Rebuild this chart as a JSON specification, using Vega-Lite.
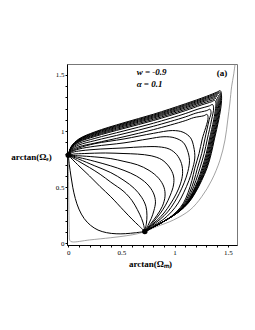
{
  "$schema": "https://vega.github.io/schema/vega-lite/v6.json",
  "autosize": {"type": "none"},
  "width": 170,
  "height": 181,
  "padding": {"left": 67, "top": 64, "right": 18, "bottom": 85},
  "background": "white",
  "config": {"view": {"stroke": "#777", "strokeWidth": 1}},
  "datasets": {
    "curves": [
      {"c":"L1","x":0,"y":0.785},{"c":"L1","x":0.01,"y":0.7},{"c":"L1","x":0.025,"y":0.6},{"c":"L1","x":0.042,"y":0.5},{"c":"L1","x":0.066,"y":0.4},{"c":"L1","x":0.1,"y":0.305},{"c":"L1","x":0.15,"y":0.22},{"c":"L1","x":0.21,"y":0.16},{"c":"L1","x":0.28,"y":0.118},{"c":"L1","x":0.36,"y":0.095},{"c":"L1","x":0.45,"y":0.085},{"c":"L1","x":0.54,"y":0.086},{"c":"L1","x":0.63,"y":0.094},{"c":"L1","x":0.72,"y":0.105},
      {"c":"L2","x":0,"y":0.785},{"c":"L2","x":0.1,"y":0.69},{"c":"L2","x":0.2,"y":0.6},{"c":"L2","x":0.3,"y":0.505},{"c":"L2","x":0.4,"y":0.415},{"c":"L2","x":0.524,"y":0.29},{"c":"L2","x":0.6,"y":0.215},{"c":"L2","x":0.66,"y":0.16},{"c":"L2","x":0.72,"y":0.105},
      {"c":"L3","x":0,"y":0.785},{"c":"L3","x":0.1,"y":0.73},{"c":"L3","x":0.2,"y":0.675},{"c":"L3","x":0.3,"y":0.615},{"c":"L3","x":0.4,"y":0.545},{"c":"L3","x":0.524,"y":0.46},{"c":"L3","x":0.6,"y":0.38},{"c":"L3","x":0.65,"y":0.3},{"c":"L3","x":0.69,"y":0.22},{"c":"L3","x":0.71,"y":0.16},{"c":"L3","x":0.72,"y":0.105},
      {"c":"c14","x":0,"y":0.785},{"c":"c14","x":0.1,"y":0.75},{"c":"c14","x":0.25,"y":0.69},{"c":"c14","x":0.4,"y":0.63},{"c":"c14","x":0.524,"y":0.56},{"c":"c14","x":0.62,"y":0.49},{"c":"c14","x":0.69,"y":0.41},{"c":"c14","x":0.73,"y":0.33},{"c":"c14","x":0.74,"y":0.25},{"c":"c14","x":0.735,"y":0.18},{"c":"c14","x":0.72,"y":0.105},
      {"c":"c13","x":0,"y":0.785},{"c":"c13","x":0.1,"y":0.765},{"c":"c13","x":0.25,"y":0.73},{"c":"c13","x":0.4,"y":0.69},{"c":"c13","x":0.524,"y":0.65},{"c":"c13","x":0.64,"y":0.6},{"c":"c13","x":0.74,"y":0.53},{"c":"c13","x":0.8,"y":0.45},{"c":"c13","x":0.82,"y":0.37},{"c":"c13","x":0.805,"y":0.29},{"c":"c13","x":0.78,"y":0.22},{"c":"c13","x":0.75,"y":0.16},{"c":"c13","x":0.72,"y":0.105},
      {"c":"c12","x":0,"y":0.785},{"c":"c12","x":0.1,"y":0.78},{"c":"c12","x":0.25,"y":0.77},{"c":"c12","x":0.4,"y":0.755},{"c":"c12","x":0.524,"y":0.73},{"c":"c12","x":0.65,"y":0.7},{"c":"c12","x":0.76,"y":0.65},{"c":"c12","x":0.85,"y":0.58},{"c":"c12","x":0.9,"y":0.5},{"c":"c12","x":0.91,"y":0.42},{"c":"c12","x":0.885,"y":0.33},{"c":"c12","x":0.835,"y":0.25},{"c":"c12","x":0.78,"y":0.18},{"c":"c12","x":0.72,"y":0.105},
      {"c":"c11","x":0,"y":0.785},{"c":"c11","x":0.05,"y":0.795},{"c":"c11","x":0.15,"y":0.8},{"c":"c11","x":0.35,"y":0.805},{"c":"c11","x":0.524,"y":0.8},{"c":"c11","x":0.65,"y":0.795},{"c":"c11","x":0.78,"y":0.78},{"c":"c11","x":0.88,"y":0.745},{"c":"c11","x":0.95,"y":0.68},{"c":"c11","x":0.99,"y":0.6},{"c":"c11","x":0.99,"y":0.52},{"c":"c11","x":0.96,"y":0.43},{"c":"c11","x":0.915,"y":0.34},{"c":"c11","x":0.86,"y":0.26},{"c":"c11","x":0.8,"y":0.19},{"c":"c11","x":0.76,"y":0.145},{"c":"c11","x":0.72,"y":0.105},
      {"c":"c10","x":0,"y":0.785},{"c":"c10","x":0.04,"y":0.81},{"c":"c10","x":0.12,"y":0.825},{"c":"c10","x":0.3,"y":0.84},{"c":"c10","x":0.524,"y":0.85},{"c":"c10","x":0.7,"y":0.86},{"c":"c10","x":0.85,"y":0.86},{"c":"c10","x":0.95,"y":0.84},{"c":"c10","x":1.02,"y":0.79},{"c":"c10","x":1.065,"y":0.71},{"c":"c10","x":1.075,"y":0.62},{"c":"c10","x":1.055,"y":0.53},{"c":"c10","x":1.015,"y":0.44},{"c":"c10","x":0.96,"y":0.35},{"c":"c10","x":0.9,"y":0.27},{"c":"c10","x":0.84,"y":0.21},{"c":"c10","x":0.775,"y":0.155},{"c":"c10","x":0.72,"y":0.105},
      {"c":"c9","x":0,"y":0.785},{"c":"c9","x":0.03,"y":0.815},{"c":"c9","x":0.1,"y":0.84},{"c":"c9","x":0.25,"y":0.865},{"c":"c9","x":0.524,"y":0.895},{"c":"c9","x":0.75,"y":0.93},{"c":"c9","x":0.9,"y":0.95},{"c":"c9","x":1.0,"y":0.94},{"c":"c9","x":1.08,"y":0.9},{"c":"c9","x":1.12,"y":0.83},{"c":"c9","x":1.14,"y":0.74},{"c":"c9","x":1.125,"y":0.64},{"c":"c9","x":1.09,"y":0.54},{"c":"c9","x":1.045,"y":0.445},{"c":"c9","x":0.995,"y":0.36},{"c":"c9","x":0.935,"y":0.28},{"c":"c9","x":0.865,"y":0.215},{"c":"c9","x":0.78,"y":0.152},{"c":"c9","x":0.72,"y":0.105},
      {"c":"c8","x":0,"y":0.785},{"c":"c8","x":0.03,"y":0.82},{"c":"c8","x":0.1,"y":0.85},{"c":"c8","x":0.25,"y":0.888},{"c":"c8","x":0.524,"y":0.93},{"c":"c8","x":0.8,"y":0.98},{"c":"c8","x":0.98,"y":1.005},{"c":"c8","x":1.08,"y":0.99},{"c":"c8","x":1.15,"y":0.94},{"c":"c8","x":1.18,"y":0.86},{"c":"c8","x":1.19,"y":0.76},{"c":"c8","x":1.165,"y":0.65},{"c":"c8","x":1.135,"y":0.56},{"c":"c8","x":1.085,"y":0.45},{"c":"c8","x":1.035,"y":0.36},{"c":"c8","x":0.97,"y":0.28},{"c":"c8","x":0.89,"y":0.21},{"c":"c8","x":0.79,"y":0.15},{"c":"c8","x":0.72,"y":0.105},
      {"c":"k7","x":0,"y":0.785},{"c":"k7","x":0.03,"y":0.828},{"c":"k7","x":0.1,"y":0.861},{"c":"k7","x":0.25,"y":0.893},{"c":"k7","x":0.524,"y":0.95},{"c":"k7","x":0.8,"y":1.013},{"c":"k7","x":1.1,"y":1.093},{"c":"k7","x":1.18,"y":1.12},{"c":"k7","x":1.275,"y":1.137},{"c":"k7","x":1.305,"y":1.149},{"c":"k7","x":1.315,"y":1.119},{"c":"k7","x":1.26,"y":0.93},{"c":"k7","x":1.23,"y":0.8},{"c":"k7","x":1.19,"y":0.67},{"c":"k7","x":1.163,"y":0.56},{"c":"k7","x":1.126,"y":0.45},{"c":"k7","x":1.084,"y":0.36},{"c":"k7","x":1.017,"y":0.28},{"c":"k7","x":0.925,"y":0.21},{"c":"k7","x":0.81,"y":0.15},{"c":"k7","x":0.72,"y":0.105},
      {"c":"k6","x":0,"y":0.785},{"c":"k6","x":0.03,"y":0.836},{"c":"k6","x":0.1,"y":0.876},{"c":"k6","x":0.25,"y":0.915},{"c":"k6","x":0.524,"y":0.977},{"c":"k6","x":0.8,"y":1.043},{"c":"k6","x":1.1,"y":1.126},{"c":"k6","x":1.2,"y":1.16},{"c":"k6","x":1.303,"y":1.183},{"c":"k6","x":1.333,"y":1.195},{"c":"k6","x":1.343,"y":1.165},{"c":"k6","x":1.325,"y":1.1},{"c":"k6","x":1.285,"y":0.93},{"c":"k6","x":1.255,"y":0.8},{"c":"k6","x":1.215,"y":0.67},{"c":"k6","x":1.183,"y":0.56},{"c":"k6","x":1.141,"y":0.45},{"c":"k6","x":1.094,"y":0.36},{"c":"k6","x":1.022,"y":0.28},{"c":"k6","x":0.925,"y":0.21},{"c":"k6","x":0.81,"y":0.15},{"c":"k6","x":0.72,"y":0.105},
      {"c":"k5","x":0,"y":0.785},{"c":"k5","x":0.03,"y":0.843},{"c":"k5","x":0.1,"y":0.89},{"c":"k5","x":0.25,"y":0.935},{"c":"k5","x":0.524,"y":1.002},{"c":"k5","x":0.8,"y":1.07},{"c":"k5","x":1.1,"y":1.156},{"c":"k5","x":1.22,"y":1.196},{"c":"k5","x":1.327,"y":1.225},{"c":"k5","x":1.357,"y":1.237},{"c":"k5","x":1.367,"y":1.207},{"c":"k5","x":1.348,"y":1.1},{"c":"k5","x":1.308,"y":0.93},{"c":"k5","x":1.278,"y":0.8},{"c":"k5","x":1.238,"y":0.67},{"c":"k5","x":1.201,"y":0.56},{"c":"k5","x":1.155,"y":0.45},{"c":"k5","x":1.103,"y":0.36},{"c":"k5","x":1.027,"y":0.28},{"c":"k5","x":0.925,"y":0.21},{"c":"k5","x":0.81,"y":0.15},{"c":"k5","x":0.72,"y":0.105},
      {"c":"k4","x":0,"y":0.785},{"c":"k4","x":0.03,"y":0.85},{"c":"k4","x":0.1,"y":0.902},{"c":"k4","x":0.25,"y":0.952},{"c":"k4","x":0.524,"y":1.024},{"c":"k4","x":0.8,"y":1.094},{"c":"k4","x":1.1,"y":1.182},{"c":"k4","x":1.25,"y":1.232},{"c":"k4","x":1.349,"y":1.262},{"c":"k4","x":1.379,"y":1.274},{"c":"k4","x":1.389,"y":1.244},{"c":"k4","x":1.385,"y":1.2},{"c":"k4","x":1.368,"y":1.1},{"c":"k4","x":1.328,"y":0.93},{"c":"k4","x":1.298,"y":0.8},{"c":"k4","x":1.258,"y":0.67},{"c":"k4","x":1.218,"y":0.56},{"c":"k4","x":1.167,"y":0.45},{"c":"k4","x":1.111,"y":0.36},{"c":"k4","x":1.031,"y":0.28},{"c":"k4","x":0.925,"y":0.21},{"c":"k4","x":0.81,"y":0.15},{"c":"k4","x":0.72,"y":0.105},
      {"c":"k35","x":0,"y":0.785},{"c":"k35","x":0.03,"y":0.853},{"c":"k35","x":0.1,"y":0.9075},{"c":"k35","x":0.25,"y":0.96},{"c":"k35","x":0.524,"y":1.034},{"c":"k35","x":0.8,"y":1.105},{"c":"k35","x":1.1,"y":1.194},{"c":"k35","x":1.275,"y":1.2525},{"c":"k35","x":1.359,"y":1.2785},{"c":"k35","x":1.389,"y":1.2905},{"c":"k35","x":1.399,"y":1.2605},{"c":"k35","x":1.394,"y":1.2},{"c":"k35","x":1.377,"y":1.1},{"c":"k35","x":1.337,"y":0.93},{"c":"k35","x":1.307,"y":0.8},{"c":"k35","x":1.267,"y":0.67},{"c":"k35","x":1.225,"y":0.56},{"c":"k35","x":1.1725,"y":0.45},{"c":"k35","x":1.1145,"y":0.36},{"c":"k35","x":1.0325,"y":0.28},{"c":"k35","x":0.925,"y":0.21},{"c":"k35","x":0.81,"y":0.15},{"c":"k35","x":0.72,"y":0.105},
      {"c":"k3","x":0,"y":0.785},{"c":"k3","x":0.03,"y":0.856},{"c":"k3","x":0.1,"y":0.913},{"c":"k3","x":0.25,"y":0.968},{"c":"k3","x":0.524,"y":1.044},{"c":"k3","x":0.8,"y":1.116},{"c":"k3","x":1.1,"y":1.206},{"c":"k3","x":1.3,"y":1.273},{"c":"k3","x":1.369,"y":1.295},{"c":"k3","x":1.399,"y":1.307},{"c":"k3","x":1.409,"y":1.277},{"c":"k3","x":1.403,"y":1.2},{"c":"k3","x":1.386,"y":1.1},{"c":"k3","x":1.346,"y":0.93},{"c":"k3","x":1.316,"y":0.8},{"c":"k3","x":1.276,"y":0.67},{"c":"k3","x":1.232,"y":0.56},{"c":"k3","x":1.178,"y":0.45},{"c":"k3","x":1.118,"y":0.36},{"c":"k3","x":1.034,"y":0.28},{"c":"k3","x":0.925,"y":0.21},{"c":"k3","x":0.81,"y":0.15},{"c":"k3","x":0.72,"y":0.105},
      {"c":"k25","x":0,"y":0.785},{"c":"k25","x":0.03,"y":0.8585},{"c":"k25","x":0.1,"y":0.9175},{"c":"k25","x":0.25,"y":0.975},{"c":"k25","x":0.524,"y":1.0525},{"c":"k25","x":0.8,"y":1.125},{"c":"k25","x":1.1,"y":1.216},{"c":"k25","x":1.3,"y":1.283},{"c":"k25","x":1.378,"y":1.3095},{"c":"k25","x":1.408,"y":1.3215},{"c":"k25","x":1.418,"y":1.2915},{"c":"k25","x":1.411,"y":1.2},{"c":"k25","x":1.394,"y":1.1},{"c":"k25","x":1.354,"y":0.93},{"c":"k25","x":1.324,"y":0.8},{"c":"k25","x":1.284,"y":0.67},{"c":"k25","x":1.238,"y":0.56},{"c":"k25","x":1.1825,"y":0.45},{"c":"k25","x":1.1215,"y":0.36},{"c":"k25","x":1.0355,"y":0.28},{"c":"k25","x":0.925,"y":0.21},{"c":"k25","x":0.81,"y":0.15},{"c":"k25","x":0.72,"y":0.105},
      {"c":"k2","x":0,"y":0.785},{"c":"k2","x":0.03,"y":0.861},{"c":"k2","x":0.1,"y":0.922},{"c":"k2","x":0.25,"y":0.982},{"c":"k2","x":0.524,"y":1.061},{"c":"k2","x":0.8,"y":1.134},{"c":"k2","x":1.1,"y":1.226},{"c":"k2","x":1.3,"y":1.293},{"c":"k2","x":1.387,"y":1.324},{"c":"k2","x":1.417,"y":1.336},{"c":"k2","x":1.427,"y":1.306},{"c":"k2","x":1.419,"y":1.2},{"c":"k2","x":1.402,"y":1.1},{"c":"k2","x":1.362,"y":0.93},{"c":"k2","x":1.332,"y":0.8},{"c":"k2","x":1.292,"y":0.67},{"c":"k2","x":1.244,"y":0.56},{"c":"k2","x":1.187,"y":0.45},{"c":"k2","x":1.125,"y":0.36},{"c":"k2","x":1.037,"y":0.28},{"c":"k2","x":0.925,"y":0.21},{"c":"k2","x":0.81,"y":0.15},{"c":"k2","x":0.72,"y":0.105},
      {"c":"k15","x":0,"y":0.785},{"c":"k15","x":0.03,"y":0.863},{"c":"k15","x":0.1,"y":0.926},{"c":"k15","x":0.25,"y":0.9875},{"c":"k15","x":0.524,"y":1.068},{"c":"k15","x":0.8,"y":1.142},{"c":"k15","x":1.1,"y":1.2345},{"c":"k15","x":1.3,"y":1.3015},{"c":"k15","x":1.3935,"y":1.336},{"c":"k15","x":1.4235,"y":1.348},{"c":"k15","x":1.4335,"y":1.318},{"c":"k15","x":1.4295,"y":1.225},{"c":"k15","x":1.4085,"y":1.1},{"c":"k15","x":1.3685,"y":0.93},{"c":"k15","x":1.3385,"y":0.8},{"c":"k15","x":1.2985,"y":0.67},{"c":"k15","x":1.2495,"y":0.56},{"c":"k15","x":1.191,"y":0.45},{"c":"k15","x":1.1275,"y":0.36},{"c":"k15","x":1.0385,"y":0.28},{"c":"k15","x":0.925,"y":0.21},{"c":"k15","x":0.81,"y":0.15},{"c":"k15","x":0.72,"y":0.105},
      {"c":"k1","x":0,"y":0.785},{"c":"k1","x":0.03,"y":0.865},{"c":"k1","x":0.1,"y":0.93},{"c":"k1","x":0.25,"y":0.993},{"c":"k1","x":0.524,"y":1.075},{"c":"k1","x":0.8,"y":1.15},{"c":"k1","x":1.1,"y":1.243},{"c":"k1","x":1.3,"y":1.31},{"c":"k1","x":1.4,"y":1.348},{"c":"k1","x":1.43,"y":1.36},{"c":"k1","x":1.44,"y":1.33},{"c":"k1","x":1.44,"y":1.25},{"c":"k1","x":1.415,"y":1.1},{"c":"k1","x":1.375,"y":0.93},{"c":"k1","x":1.345,"y":0.8},{"c":"k1","x":1.305,"y":0.67},{"c":"k1","x":1.255,"y":0.56},{"c":"k1","x":1.195,"y":0.45},{"c":"k1","x":1.13,"y":0.36},{"c":"k1","x":1.04,"y":0.28},{"c":"k1","x":0.925,"y":0.21},{"c":"k1","x":0.81,"y":0.15},{"c":"k1","x":0.72,"y":0.105}
    ],
    "thin": [
      {"x":1.572,"y":1.62},{"x":1.555,"y":1.5},{"x":1.537,"y":1.4},{"x":1.52,"y":1.25},{"x":1.5,"y":1.1},{"x":1.474,"y":0.921},{"x":1.427,"y":0.742},{"x":1.35,"y":0.564},{"x":1.255,"y":0.415},{"x":1.145,"y":0.297},{"x":0.99,"y":0.208},{"x":0.83,"y":0.148},{"x":0.72,"y":0.105},{"x":0.65,"y":0.085},{"x":0.55,"y":0.068},{"x":0.4,"y":0.05},{"x":0.2,"y":0.03},{"x":0.035,"y":0.013},{"x":0.015,"y":0.025},{"x":0.01,"y":0.1},{"x":0.006,"y":0.3},{"x":0.003,"y":0.55},{"x":0,"y":0.785}
    ],
    "fixed": [{"x":0,"y":0.785},{"x":0.72,"y":0.105}],
    "params": [{"x":0.643,"y":1.524,"t":"w = -0.9"},{"x":0.643,"y":1.42,"t":"α = 0.1"}],
    "panel": [{"x":1.446,"y":1.515,"t":"(a)"}]
  },
  "encoding": {
    "x": {
      "field": "x", "type": "quantitative",
      "scale": {"domain": [-0.012, 1.587], "nice": false, "zero": false},
      "axis": {
        "title": "arctan(Ωₘ)", "titleFont": "Liberation Serif", "titleFontWeight": "bold", "titleFontSize": 9, "titleColor": "black",
        "titleX": 83, "titleY": 18, "titleBaseline": "middle",
        "values": [0,0.1,0.2,0.3,0.4,0.5,0.6,0.7,0.8,0.9,1,1.1,1.2,1.3,1.4,1.5],
        "format": ".1~f",
        "labelExpr": "abs(datum.value*2 - round(datum.value*2)) < 0.001 ? datum.label : ''",
        "labelFont": "Liberation Serif", "labelFontSize": 7, "labelColor": "black", "labelPadding": 1,
        "tickSize": 2, "tickColor": "black", "domainColor": "black", "grid": false, "labelFlush": false
      }
    },
    "y": {
      "field": "y", "type": "quantitative",
      "scale": {"domain": [-0.015, 1.598], "nice": false, "zero": false},
      "axis": {
        "title": "arctan(Ωₑ)", "titleFont": "Liberation Serif", "titleFontWeight": "bold", "titleFontSize": 9, "titleColor": "black",
        "titleAngle": 0, "titleX": -36, "titleY": 92, "titleAlign": "center", "titleBaseline": "middle",
        "values": [0,0.1,0.2,0.3,0.4,0.5,0.6,0.7,0.8,0.9,1,1.1,1.2,1.3,1.4,1.5],
        "format": ".1~f",
        "labelExpr": "abs(datum.value*2 - round(datum.value*2)) < 0.001 ? datum.label : ''",
        "labelFont": "Liberation Serif", "labelFontSize": 7, "labelColor": "black", "labelPadding": 1,
        "tickSize": 2, "tickColor": "black", "domainColor": "black", "grid": false, "labelFlush": false
      }
    }
  },
  "layer": [
    {
      "data": {"name": "thin"},
      "mark": {"type": "line", "color": "#8a8a8a", "strokeWidth": 0.8, "interpolate": "catmull-rom", "clip": true},
      "encoding": {"order": {"value": null}}
    },
    {
      "data": {"name": "curves"},
      "mark": {"type": "line", "color": "black", "strokeWidth": 1, "interpolate": "catmull-rom", "clip": true},
      "encoding": {"detail": {"field": "c"}, "order": {"value": null}}
    },
    {
      "data": {"name": "fixed"},
      "mark": {"type": "circle", "color": "black", "size": 30, "opacity": 1}
    },
    {
      "data": {"name": "params"},
      "mark": {"type": "text", "align": "left", "baseline": "middle", "font": "Liberation Serif", "fontSize": 9, "fontStyle": "italic", "fontWeight": "bold", "color": "black"},
      "encoding": {"text": {"field": "t"}}
    },
    {
      "data": {"name": "panel"},
      "mark": {"type": "text", "align": "center", "baseline": "middle", "font": "Liberation Serif", "fontSize": 9, "fontWeight": "bold", "color": "black"},
      "encoding": {"text": {"field": "t"}}
    }
  ]
}
